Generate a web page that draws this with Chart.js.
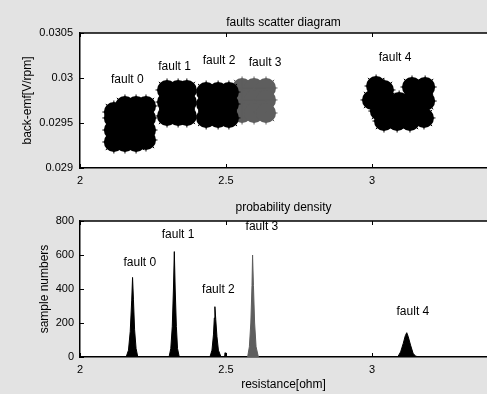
<!DOCTYPE html>
<html>
<head>
<meta charset="utf-8">
<script src="https://cdn.jsdelivr.net/npm/chart.js@4.4.0/dist/chart.umd.min.js"></script>
<style>
html, body { margin: 0; padding: 0; background: #e3e3e3; overflow: hidden; }
#wrap { position: relative; width: 487px; height: 394px; }
canvas { position: absolute; left: 0; }
#topChart { top: 0; }
#bottomChart { top: 190px; }
</style>
</head>
<body>
<div id="wrap">
  <canvas id="topChart" width="487" height="190"></canvas>
  <canvas id="bottomChart" width="487" height="204"></canvas>
</div>
<script>
const faultNames = ["fault 0", "fault 1", "fault 2", "fault 3", "fault 4"];
const faultColors = ["#000", "#000", "#000", "#5e5e5e", "#000"];

const xTicks = [2, 2.5, 3];
const xTickLabels = ["2", "2.5", "3"];
const emfTicks = [0.029, 0.0295, 0.03, 0.0305];
const emfTickLabels = ["0.029", "0.0295", "0.03", "0.0305"];
const countTicks = [0, 200, 400, 600, 800];
const countTickLabels = ["0", "200", "400", "600", "800"];

// scatter clouds: resistance / back-emf, one list per fault
const cloudX = [
    [2.116, 2.154, 2.192, 2.226, 2.116, 2.154, 2.192, 2.226, 2.116, 2.154, 2.192, 2.226, 2.116, 2.154, 2.192, 2.226],
    [2.298, 2.336, 2.366, 2.298, 2.336, 2.366, 2.298, 2.336, 2.366],
    [2.432, 2.473, 2.510, 2.432, 2.473, 2.510, 2.432, 2.473, 2.510],
    [2.555, 2.596, 2.637, 2.555, 2.596, 2.637, 2.555, 2.596, 2.637],
    [3.014, 3.041, 3.137, 3.158, 3.182, 3.000, 3.048, 3.093, 3.137, 3.182,
     3.027, 3.072, 3.116, 3.161, 3.041, 3.086, 3.130, 3.178]
];
const cloudY = [
    [0.029622, 0.029689, 0.029689, 0.029689, 0.029556, 0.029556, 0.029556, 0.029556, 0.029422, 0.029422, 0.029422, 0.029422, 0.029289, 0.029289, 0.029289, 0.029311],
    [0.029867, 0.029867, 0.029867, 0.029733, 0.029733, 0.029733, 0.029578, 0.029578, 0.029578],
    [0.029844, 0.029844, 0.029844, 0.029711, 0.029711, 0.029711, 0.029556, 0.029556, 0.029556],
    [0.029889, 0.029889, 0.029889, 0.029756, 0.029756, 0.029756, 0.029611, 0.029611, 0.029611],
    [0.029911, 0.029867, 0.029900, 0.029844, 0.029900, 0.029756, 0.029744, 0.029733, 0.029756, 0.029744,
     0.029633, 0.029633, 0.029633, 0.029633, 0.029522, 0.029522, 0.029522, 0.029556]
];

// histogram outlines: resistance / sample numbers
const densityX = [
    [2.158, 2.166, 2.172, 2.177, 2.180, 2.183, 2.187, 2.192, 2.198],
    [2.305, 2.311, 2.316, 2.320, 2.323, 2.326, 2.330, 2.334, 2.340],
    [2.445, 2.452, 2.457, 2.460, 2.462, 2.465, 2.469, 2.474, 2.483, 2.495, 2.497, 2.499],
    [2.574, 2.580, 2.585, 2.589, 2.591, 2.594, 2.598, 2.603, 2.611],
    [3.088, 3.098, 3.107, 3.114, 3.119, 3.124, 3.132, 3.141, 3.150, 3.160]
];
const densityY = [
    [0, 40, 150, 330, 468, 340, 160, 50, 0],
    [0, 50, 180, 400, 620, 400, 180, 50, 0],
    [0, 40, 130, 230, 296, 220, 120, 40, 0, 0, 25, 0],
    [0, 60, 200, 420, 600, 420, 200, 60, 0],
    [0, 30, 80, 125, 143, 120, 70, 20, 5, 0]
];

// where the fault names sit, in data units
const emfLabelX = [2.162, 2.324, 2.476, 2.634, 3.079];
const emfLabelY = [0.029978, 0.030126, 0.030189, 0.03017, 0.03023];
const countLabelX = [2.205, 2.336, 2.474, 2.623, 3.140];
const countLabelY = [553, 717, 394, 766, 264];

const FONT = 'Arial, "Liberation Sans", sans-serif';
const xMax = 2 + 407 / 292;

const framePlugin = {
    id: "frame",
    beforeDraw(chart) {
        const a = chart.chartArea, ctx = chart.ctx;
        ctx.save();
        ctx.fillStyle = "#fff";
        ctx.fillRect(a.left, a.top, a.right - a.left, a.bottom - a.top);
        ctx.restore();
    },
    afterDraw(chart, args, opts) {
        const a = chart.chartArea, ctx = chart.ctx;
        const xs = chart.scales.x, ys = chart.scales.y;
        ctx.save();
        ctx.strokeStyle = "#000";
        ctx.lineWidth = 1.5;
        ctx.beginPath();
        ctx.moveTo(a.left, a.top);
        ctx.lineTo(a.right, a.top);
        ctx.stroke();
        ctx.lineWidth = 1;
        ctx.beginPath();
        xTicks.forEach(v => {
            const px = Math.round(xs.getPixelForValue(v)) + 0.5;
            ctx.moveTo(px, a.bottom); ctx.lineTo(px, a.bottom - 4);
            ctx.moveTo(px, a.top); ctx.lineTo(px, a.top + 4);
        });
        ys.ticks.forEach(t => {
            const py = Math.round(ys.getPixelForValue(t.value)) + 0.5;
            ctx.moveTo(a.left, py); ctx.lineTo(a.left + 4, py);
        });
        ctx.stroke();

        ctx.fillStyle = "#000";
        ctx.font = "12px " + FONT;
        ctx.textAlign = "center";
        ctx.textBaseline = "middle";
        faultNames.forEach((name, i) => {
            ctx.fillText(name, xs.getPixelForValue(opts.xs[i]), ys.getPixelForValue(opts.ys[i]));
        });
        ctx.restore();
    }
};

function baseOptions(title, titlePad, yMin, yMax, yTicks, yLabels, yTitle, yTitlePad, xHeight, xTitle) {
    return {
        responsive: false,
        animation: false,
        events: [],
        layout: { padding: 0, autoPadding: false },
        plugins: {
            legend: { display: false },
            tooltip: { enabled: false },
            title: {
                display: true, text: title, fullSize: false, color: "#000",
                font: { size: 12, family: FONT, weight: "normal" },
                padding: titlePad
            }
        },
        scales: {
            x: {
                type: "linear", min: 2, max: xMax,
                afterBuildTicks: s => { s.ticks = xTicks.map(v => ({ value: v })); },
                afterFit: s => { s.height = xHeight; },
                ticks: {
                    callback: (v, i) => xTickLabels[i],
                    padding: 6, maxRotation: 0, color: "#000",
                    font: { size: 11, family: FONT }
                },
                grid: { display: true, drawOnChartArea: false, drawTicks: false },
                border: { color: "#000", width: 1.5 },
                title: {
                    display: !!xTitle, text: xTitle || "", color: "#000",
                    font: { size: 12, family: FONT }, padding: { top: 0, bottom: 2 }
                }
            },
            y: {
                type: "linear", min: yMin, max: yMax,
                afterBuildTicks: s => { s.ticks = yTicks.map(v => ({ value: v })); },
                afterFit: s => { s.width = 80; },
                ticks: {
                    callback: (v, i) => yLabels[i],
                    padding: 7, color: "#000",
                    font: { size: 11, family: FONT }
                },
                grid: { display: true, drawOnChartArea: false, drawTicks: false },
                border: { color: "#000", width: 1.5 },
                title: {
                    display: true, text: yTitle, color: "#000",
                    font: { size: 12, family: FONT }, padding: { top: yTitlePad, bottom: 0 }
                }
            }
        }
    };
}

const topOpts = baseOptions("faults scatter diagram", { top: 15, bottom: 3.6 },
    0.029, 0.0305, emfTicks, emfTickLabels, "back-emf[V/rpm]", 20, 22, null);
topOpts.plugins.frame = { xs: emfLabelX, ys: emfLabelY };

// solid cores plus a spiky rim so the clouds get ragged edges
const cloudSets = [];
faultNames.forEach((name, i) => {
    const pts = cloudX[i].map((x, j) => ({ x: x, y: cloudY[i][j] }));
    cloudSets.push({
        label: name + " rim", data: pts, pointStyle: "star",
        pointRadius: 11.5, pointHoverRadius: 11.5,
        borderColor: faultColors[i], backgroundColor: faultColors[i], borderWidth: 1
    });
    cloudSets.push({
        label: name, data: pts, pointStyle: "circle",
        pointRadius: 10, pointHoverRadius: 10,
        backgroundColor: faultColors[i], borderWidth: 0
    });
});

new Chart(document.getElementById("topChart"), {
    type: "scatter",
    data: { datasets: cloudSets },
    options: topOpts,
    plugins: [framePlugin]
});

const bottomOpts = baseOptions("probability density", { top: 10, bottom: 6.6 },
    0, 800, countTicks, countTickLabels, "sample numbers", 37, 37, "resistance[ohm]");
bottomOpts.scales.y.ticks.padding = 6;
bottomOpts.plugins.frame = { xs: countLabelX, ys: countLabelY };

new Chart(document.getElementById("bottomChart"), {
    type: "scatter",
    data: {
        datasets: faultNames.map((name, i) => ({
            label: name,
            data: densityX[i].map((x, j) => ({ x: x, y: densityY[i][j] })),
            showLine: true,
            fill: "origin",
            backgroundColor: faultColors[i],
            borderColor: faultColors[i],
            borderWidth: 1,
            pointRadius: 0,
            tension: 0
        }))
    },
    options: bottomOpts,
    plugins: [framePlugin]
});
</script>
</body>
</html>
